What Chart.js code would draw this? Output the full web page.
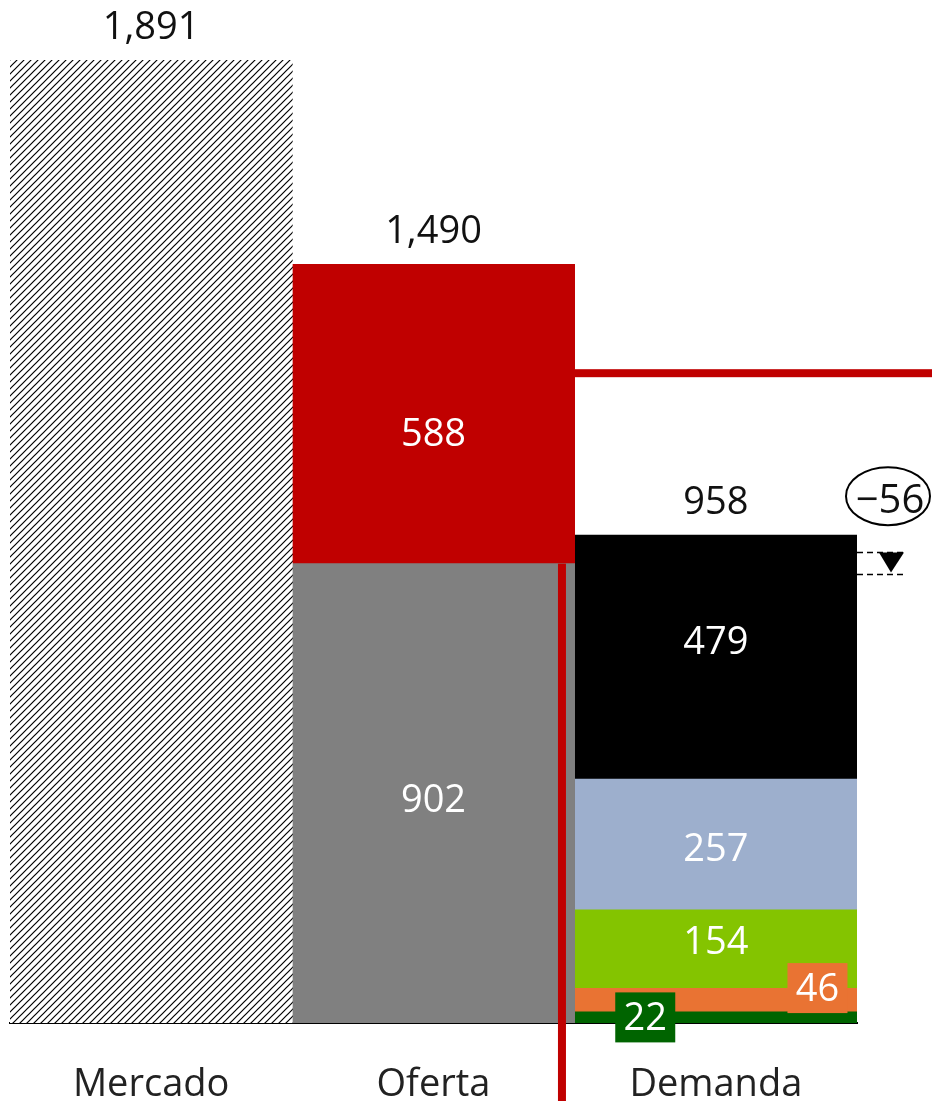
<!DOCTYPE html>
<html>
<head>
<meta charset="utf-8">
<script src="https://cdn.jsdelivr.net/npm/chart.js@4.4.0/dist/chart.umd.min.js"></script>
<style>
  html, body { margin: 0; padding: 0; background: #fff; }
  #wrap { width: 932px; height: 1101px; position: relative; }
</style>
</head>
<body>
<div id="wrap"><canvas id="myChart"></canvas></div>
<script>
// values
var categories = ['Mercado', 'Oferta', 'Demanda'];
var totals = [1891, 1490, 958];
var mercado = [1891, null, null];
var ofertaGris = [null, 902, null];
var ofertaRoja = [null, 588, null];
var demVerdeOscuro = [null, null, 22];
var demNaranja = [null, null, 46];
var demVerde = [null, null, 154];
var demAzul = [null, null, 257];
var demNegro = [null, null, 479];
var lineaRoja = 1276;      // red horizontal reference
var brecha = '\u221256';   // gap label
var brechaRango = [924, 881];

var font = "'Open Sans', sans-serif";

// diagonal hatch for Mercado
function hatch() {
    var c = document.createElement('canvas');
    c.width = 7; c.height = 7;
    var g = c.getContext('2d');
    g.fillStyle = '#fff';
    g.fillRect(0, 0, 7, 7);
    g.strokeStyle = '#000';
    g.lineWidth = 1.2;
    g.beginPath();
    g.moveTo(-1, 8); g.lineTo(8, -1);
    g.moveTo(-1, 1); g.lineTo(1, -1);
    g.moveTo(6, 8); g.lineTo(8, 6);
    g.stroke();
    return g.createPattern(c, 'repeat');
}

var ctx = document.getElementById('myChart').getContext('2d');

var etiquetas = {
    id: 'etiquetas',
    afterDraw: function (chart) {
        var c = chart.ctx;
        var x = chart.scales.x, y = chart.scales.y;
        var area = chart.chartArea;
        c.save();
        c.textAlign = 'center';
        c.textBaseline = 'middle';
        c.font = '38px ' + font;

        // segment labels
        chart.data.datasets.forEach(function (ds, i) {
            var meta = chart.getDatasetMeta(i);
            if (!ds.inner) return;
            meta.data.forEach(function (bar, j) {
                var v = ds.data[j];
                if (v == null) return;
                var cx = bar.x + (ds.dx || 0) * bar.width;
                var cy = (bar.y + bar.base) / 2 + (ds.dy || 0);
                if (ds.box) {
                    c.fillStyle = ds.backgroundColor;
                    c.fillRect(cx - 30, cy - 25, 60, 50);
                }
                c.fillStyle = '#fff';
                c.fillText(String(v), cx, cy + 2);
            });
        });

        // totals above bars
        c.fillStyle = '#111';
        totals.forEach(function (t, j) {
            var px = x.getPixelForValue(j);
            var py = y.getPixelForValue(t);
            c.fillText(t.toLocaleString('en-US'), px, py - 32);
        });

        // red lines
        var oferta = chart.getDatasetMeta(1).data[1];
        var right = oferta.x + oferta.width / 2;
        c.fillStyle = '#c00000';
        var yr = y.getPixelForValue(lineaRoja);
        c.fillRect(right, yr - 4, chart.width - right, 8);
        var xv = oferta.x + oferta.width * 0.455;
        var yv = y.getPixelForValue(ofertaGris[1]);
        c.fillRect(xv - 4, yv, 8, chart.height - yv);

        // gap annotation
        var y1 = Math.round(y.getPixelForValue(brechaRango[0])) + 0.5;
        var y2 = Math.round(y.getPixelForValue(brechaRango[1])) + 0.5;
        c.strokeStyle = '#000';
        c.lineWidth = 1.5;
        c.setLineDash([6, 4]);
        c.beginPath();
        c.moveTo(area.right, y1); c.lineTo(area.right + 48, y1);
        c.moveTo(area.right, y2); c.lineTo(area.right + 48, y2);
        c.stroke();
        c.setLineDash([]);
        c.fillStyle = '#000';
        c.beginPath();
        c.moveTo(area.right + 22, y1);
        c.lineTo(area.right + 47, y1);
        c.lineTo(area.right + 34, y2 - 2);
        c.closePath();
        c.fill();
        var ty = y.getPixelForValue(totals[2]) - 32;
        c.lineWidth = 2;
        c.beginPath();
        c.ellipse(area.right + 31, ty - 7, 42, 29, 0, 0, Math.PI * 2);
        c.stroke();
        c.fillStyle = '#111';
        c.font = '40px ' + font;
        c.fillText(brecha, area.right + 33, ty - 2);
        c.restore();
    }
};

var myChart = new Chart(ctx, {
    type: 'bar',
    data: {
        labels: categories,
        datasets: [
            { data: mercado, backgroundColor: hatch() },
            { data: ofertaGris, backgroundColor: '#808080', inner: true, dy: 6 },
            { data: ofertaRoja, backgroundColor: '#c00000', inner: true, dy: 19 },
            { data: demVerdeOscuro, backgroundColor: '#006400', inner: true, box: true, dx: -0.25 },
            { data: demNaranja, backgroundColor: '#e97333', inner: true, box: true, dx: 0.36, dy: -12 },
            { data: demVerde, backgroundColor: '#84c400', inner: true, dy: -8 },
            { data: demAzul, backgroundColor: '#9dafcd', inner: true, dy: 4 },
            { data: demNegro, backgroundColor: '#000000', inner: true, dy: -16 }
        ]
    },
    options: {
        responsive: true,
        maintainAspectRatio: false,
        animation: false,
        layout: { padding: { top: 60, left: 10, right: 75, bottom: -46 } },
        datasets: { bar: { categoryPercentage: 1, barPercentage: 1, borderWidth: 0 } },
        plugins: { legend: { display: false }, tooltip: { enabled: false } },
        scales: {
            x: {
                stacked: true,
                grid: { display: false, drawTicks: false },
                border: { display: true, color: '#000', width: 2 },
                ticks: { color: '#222', padding: 43, font: { family: font, size: 38, lineHeight: 1 } }
            },
            y: {
                stacked: true,
                display: false,
                min: 0,
                max: 1891
            }
        }
    },
    plugins: [etiquetas]
});
</script>
</body>
</html>
